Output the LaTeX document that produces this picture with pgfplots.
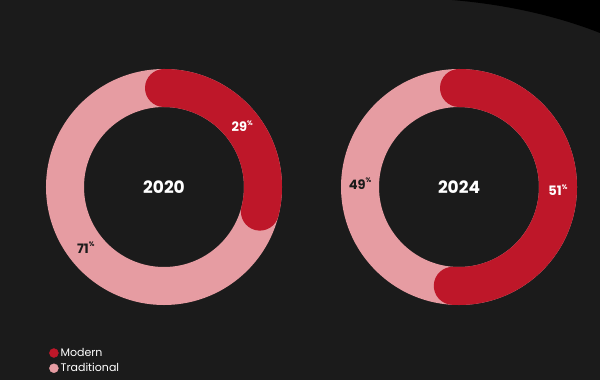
\documentclass[border=0pt]{standalone}
\usepackage{pgfplots}
\pgfplotsset{compat=1.18}
\usepackage{pgfplotstable}
\usepackage{fontspec}
\setmainfont{Poppins}
\definecolor{bg}{HTML}{1B1B1B}
\definecolor{modern}{HTML}{BE1729}
\definecolor{trad}{HTML}{E69CA2}
\definecolor{darktxt}{HTML}{1B1B1B}
\newcommand\pct[1]{#1\raisebox{0.5em}{\fontsize{6.5bp}{6.5bp}\selectfont\%}}
\pgfplotstableread{
year cx cy modern traditional
2020 164 193 29 71
2024 459 193 51 49
}\donuts
\begin{document}
\begin{tikzpicture}
\begin{axis}[x=1bp, y=1bp, xmin=0, xmax=600, ymin=0, ymax=380,
  hide axis, scale only axis, clip=true,
  legend style={at={(axis cs:49,34)}, anchor=north west, draw=none, fill=none,
    text=white, font=\fontsize{11bp}{13bp}\selectfont\mdseries, inner sep=0pt,
    row sep=1.5bp, /tikz/every even column/.style={column sep=6bp}},
  legend cell align=left,
  legend image code/.code={\fill[#1] (0.1cm,0cm) circle (4.5bp);},
]
\fill[bg] (axis cs:0,0) rectangle (axis cs:600,380);
\fill[black] (axis cs:452,380) .. controls (axis cs:512,375) and (axis cs:562,362) .. (axis cs:600,347) -- (axis cs:600,380) -- cycle;
\pgfplotsforeachungrouped \i in {0,1}{
  \pgfplotstablegetelem{\i}{year}\of\donuts \let\yr\pgfplotsretval
  \pgfplotstablegetelem{\i}{cx}\of\donuts \let\cx\pgfplotsretval
  \pgfplotstablegetelem{\i}{cy}\of\donuts \let\cy\pgfplotsretval
  \pgfplotstablegetelem{\i}{modern}\of\donuts \let\m\pgfplotsretval
  \pgfplotstablegetelem{\i}{traditional}\of\donuts \let\t\pgfplotsretval
  \pgfmathsetmacro\ang{3.6*\m}
  \pgfmathsetmacro\midM{90-1.8*\m}
  \pgfmathsetmacro\midT{90-3.6*\m-1.8*\t}
  \edef\temp{
    \noexpand\draw[trad, line width=38bp] (axis cs:\cx,\cy) circle[radius=99bp];
    \noexpand\draw[modern, line width=38bp, line cap=round] (axis cs:\cx,\cy) ++(90:99bp) arc[start angle=90, delta angle=-\ang, radius=99bp];
    \noexpand\path (axis cs:\cx,\cy) node[text=white, font=\noexpand\fontsize{17bp}{20bp}\noexpand\selectfont\noexpand\bfseries] {\yr};
    \noexpand\path (axis cs:\cx,\cy) ++(\midM:99bp) node[text=white, font=\noexpand\fontsize{13bp}{15bp}\noexpand\selectfont\noexpand\bfseries] {\noexpand\pct{\m}};
    \noexpand\path (axis cs:\cx,\cy) ++(\midT:99bp) node[text=darktxt, font=\noexpand\fontsize{13bp}{15bp}\noexpand\selectfont\noexpand\bfseries] {\noexpand\pct{\t}};
  }
  \temp
}
\addlegendimage{modern}
\addlegendentry{Modern}
\addlegendimage{trad}
\addlegendentry{Traditional}
\end{axis}
\end{tikzpicture}
\end{document}
